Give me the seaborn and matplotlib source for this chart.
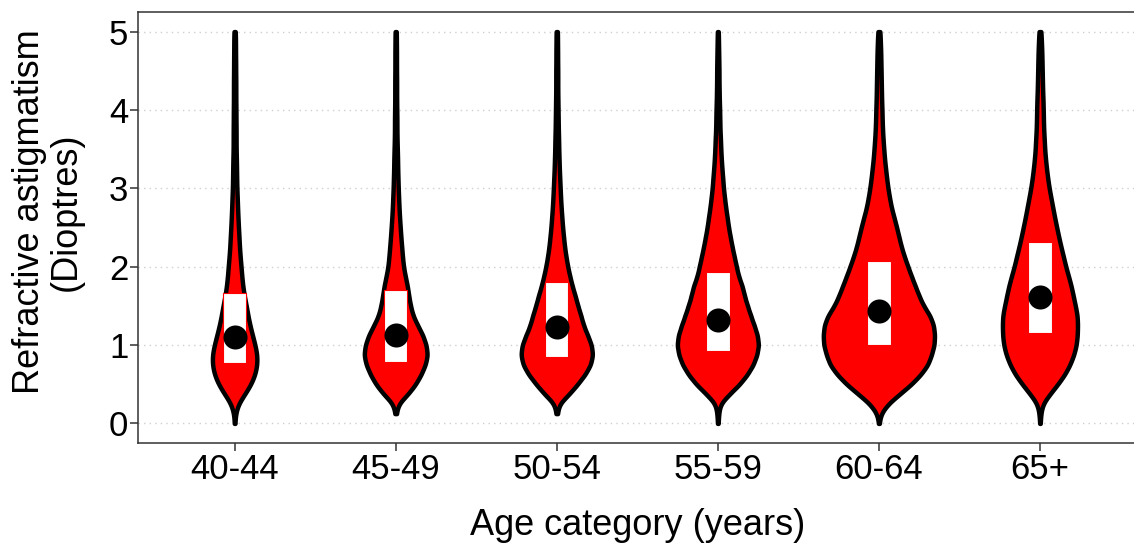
import numpy as np
import pandas as pd
import matplotlib
matplotlib.use("Agg")
import matplotlib.pyplot as plt
import seaborn as sns

# ---- data ----
categories = ["40-44", "45-49", "50-54", "55-59", "60-64", "65+"]

# relative group sizes (violin widths are scaled by count), read from peak widths
group_size = [44, 62, 70.3, 80, 110, 74.3]

# astigmatism levels (D), 0 to 5 in 1/8 D steps
levels = [i * 0.125 for i in range(41)]

# relative frequency at each level (pixels)
freq_40_44 = [0.5, 1.5, 7, 20, 32, 40, 44, 44, 40, 35, 30, 26, 23, 19, 16, 14,
              12.5, 11, 9.5, 8.5, 7.3, 6.5, 5.8, 5.2, 4.4, 4, 3.6, 3.3, 3, 2.9,
              2.8, 2.6, 2.5, 2.4, 2.3, 2.2, 2, 1.9, 1.8, 1.6, 1.5]
freq_45_49 = [0, 1, 5, 24, 38.7, 49.3, 57.7, 62, 59.3, 52.7, 42.7, 33.3, 28.7,
              25.3, 22.7, 18.7, 15, 13.3, 11.7, 10, 8.7, 7.5, 6.5, 5.7, 5, 4.5,
              4, 3.5, 3, 2.7, 2.4, 2.2, 2, 1.9, 1.8, 1.7, 1.6, 1.6, 1.5, 1.4, 1.4]
freq_50_54 = [0, 1, 4.5, 24.3, 40.3, 55.3, 66, 70.3, 67.7, 60, 52, 47, 41, 36,
              30, 25.3, 21.3, 18, 15.3, 13.3, 11.3, 10, 8.5, 7.5, 6.5, 5.7, 5,
              4.5, 4, 3.5, 3, 2.7, 2.4, 2.2, 2, 1.9, 1.8, 1.7, 1.6, 1.5, 1.5]
freq_55_59 = [0.5, 1.5, 4.5, 22.7, 42.7, 57.7, 69.3, 76.3, 80, 77.3, 71, 64.3,
              57.7, 52, 47.7, 40.3, 36.3, 32, 28, 24.3, 21, 18.3, 15.3, 13, 11,
              9.5, 8, 6.8, 5.8, 5, 4.3, 3.8, 3.4, 3, 2.7, 2.4, 2.1, 1.8, 1.5,
              1.2, 1]
freq_60_64 = [0.3, 3.5, 18, 41, 64.3, 82.7, 97, 103.7, 109.3, 110, 108, 101,
              87.7, 79.3, 71.7, 64.3, 57, 50.5, 44.3, 39.5, 35, 30, 24.7, 21,
              18, 15.5, 13.3, 11, 9.5, 8.3, 7.3, 6.6, 6, 5.5, 5, 4.6, 4.3, 3.9,
              3.5, 2.8, 2]
freq_65p = [0.5, 1.5, 5, 20, 35.3, 49.3, 59.3, 67.3, 72, 74, 74.3, 74, 70, 66,
            61.7, 56.7, 51, 46.7, 41.7, 37.3, 33.3, 29, 25.3, 21.7, 18.3, 15.3,
            13, 11, 9.5, 8.3, 7.3, 6.8, 6.5, 5.9, 5.3, 4.9, 4.5, 4, 3.5, 2.8, 2]

# summary marks: white box (lower/upper quartile) and black dot
box_lower = [0.77, 0.79, 0.85, 0.93, 1.00, 1.15]
box_upper = [1.66, 1.70, 1.81, 1.93, 2.07, 2.31]
centre = [1.10, 1.13, 1.23, 1.32, 1.43, 1.61]

y_ticks = [0, 1, 2, 3, 4, 5]

# ---- build long table (observations repeated by frequency) ----
all_freq = [freq_40_44, freq_45_49, freq_50_54,
            freq_55_59, freq_60_64, freq_65p]
rows_age, rows_val = [], []
for cat, fr, n in zip(categories, all_freq, group_size):
    fr = np.asarray(fr, dtype=float)
    cnts = np.round(fr / fr.sum() * n * 40).astype(int)
    vals = np.repeat(levels, cnts)
    rows_val.extend(vals.tolist())
    rows_age.extend([cat] * len(vals))
df = pd.DataFrame({"age": rows_age, "astig": rows_val})

# ---- style ----
sns.set_theme(style="ticks")
plt.rcParams["font.family"] = ["Liberation Sans", "DejaVu Sans"]

W, H = 1134, 548
fig = plt.figure(figsize=(W / 100, H / 100), dpi=100)
ax = fig.add_axes([138 / W, 105 / H, 998.6 / W, 431 / H])
ax.set_axisbelow(True)
ax.grid(True, which="major", linestyle=(0, (1, 3)), color="#cfcfcf", linewidth=1.0)

sns.violinplot(data=df, x="age", y="astig", order=categories, color="red",
               saturation=1, linecolor="black", linewidth=3.2, inner=None,
               cut=0, density_norm="count", width=0.69, bw_method=0.09,
               gridsize=300, ax=ax)
for coll in ax.collections:
    coll.set_joinstyle("round")
    coll.set_capstyle("round")

heights = [u - l for u, l in zip(box_upper, box_lower)]
ax.bar(categories, heights, bottom=box_lower, width=0.145, color="white",
       edgecolor="red", linewidth=0.8, zorder=3)
ax.scatter(categories, centre, s=300, color="black", linewidths=0, zorder=4)

ax.set_xlim(-0.6, 5.6)
ax.set_ylim(-0.25, 5.25)
ax.set_yticks(y_ticks)
ax.set_yticklabels([str(t) for t in y_ticks])

for side in ["top", "left", "bottom"]:
    ax.spines[side].set_visible(True)
    ax.spines[side].set_color("#333333")
    ax.spines[side].set_linewidth(1.1)
ax.spines["right"].set_visible(False)

ax.tick_params(axis="both", direction="out", length=6, width=1.1,
               color="#333333", labelsize=25, labelcolor="black",
               bottom=True, left=True)
ax.tick_params(axis="x", pad=1)
ax.tick_params(axis="y", pad=1)

ax.set_xlabel("Age category (years)", fontsize=26, color="black")
ax.xaxis.set_label_coords(0.5, -0.150)
ax.xaxis.label.set_va("top")

ax.set_ylabel("Refractive astigmatism\n(Dioptres)", fontsize=26, color="black",
              linespacing=1.05)
ax.yaxis.label.set_rotation_mode("default")
ax.yaxis.label.set_va("center")
ax.yaxis.label.set_ha("center")
ax.yaxis.set_label_coords((48 - 138) / 998.6, (443 - 212) / 431)

fig.savefig("out.png", dpi=100)
